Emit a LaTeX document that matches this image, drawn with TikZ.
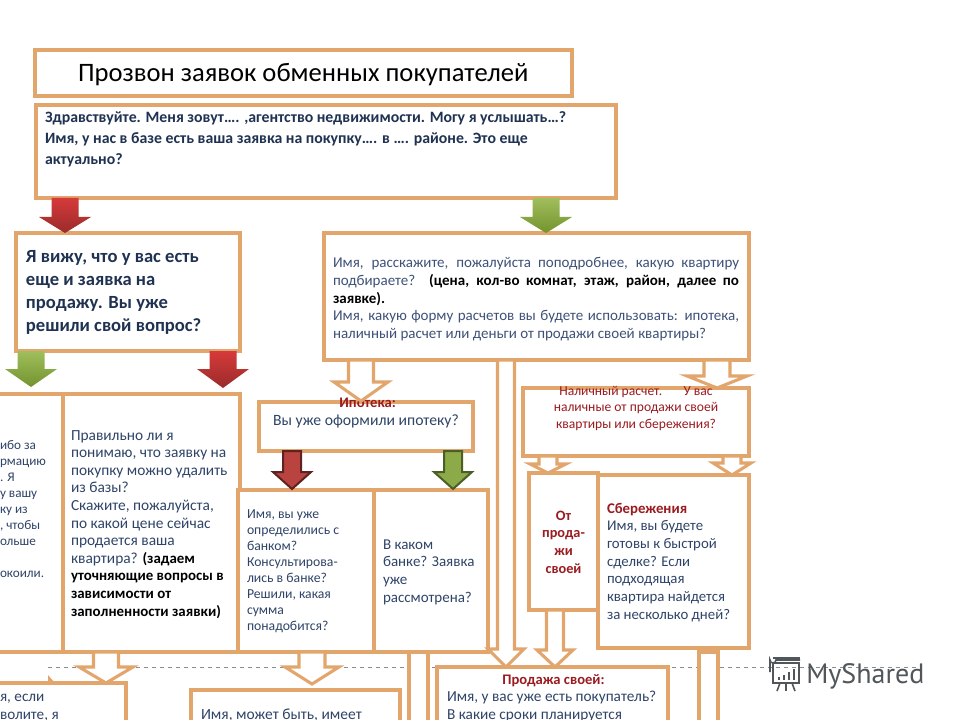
\documentclass[tikz,border=0pt]{standalone}
\usepackage{fontspec}
\setmainfont{Carlito}
\newfontfamily\logofont{PT Sans}
\usetikzlibrary{calc}
\definecolor{peach}{HTML}{E2A56C}
\definecolor{ink}{HTML}{2F4468}
\definecolor{inkdark}{HTML}{1F3252}
\definecolor{inklight}{HTML}{3E5278}
\definecolor{redtxt}{HTML}{9A1B20}
\definecolor{logogray}{HTML}{50565A}
\definecolor{redtop}{HTML}{D63A3A}
\definecolor{redbot}{HTML}{9A2B2B}
\definecolor{greentop}{HTML}{A0BF5C}
\definecolor{greenbot}{HTML}{73932F}
\definecolor{redframefill}{HTML}{B8433F}
\definecolor{redframeline}{HTML}{5E2220}
\definecolor{greenframefill}{HTML}{8CAB48}
\definecolor{greenframeline}{HTML}{4A5E26}
\tikzset{
  x=0.75pt,y=-0.75pt,
  boxnode/.style={draw=peach,line width=2.3pt,fill=white,inner sep=0pt,outer sep=0pt},
  outlinearrow/.style={draw=peach,line width=2.3pt,fill=white,line join=miter},
  redarrow/.style={top color=redtop,bottom color=redbot,draw=none},
  greenarrow/.style={top color=greentop,bottom color=greenbot,draw=none},
  redframe/.style={draw=redframeline,line width=1.5pt,fill=redframefill},
  greenframe/.style={draw=greenframeline,line width=1.5pt,fill=greenframefill},
  stripline/.style={draw=peach,line width=2.3pt,fill=white},
  dashline/.style={draw=black!45,line width=0.5pt,dashed},
}
\newcommand\fs[2]{\fontsize{\the\dimexpr #1pt*3/4\relax}{\the\dimexpr #2pt*3/4\relax}\selectfont}
% name x1 y1 x2 y2 text-left first-baseline content
\newcommand\bx[8]{%
  \pgfmathsetmacro\bw{(#4-#2)*0.75}%
  \pgfmathsetmacro\bh{(#5-#3)*0.75}%
  \pgfmathsetmacro\bl{(#6-#2)*0.75}%
  \pgfmathsetmacro\bt{(#7-#3)*0.75}%
  \node[boxnode] (#1) at ({(#2+#4)/2},{(#3+#5)/2}) {\parbox[c][\bh pt][t]{\bw pt}{\raggedright\leftskip=\bl pt\relax\parindent=0pt #8\par}};%
}
\newcommand\fl{\vspace*{\dimexpr\bt pt-.7\baselineskip\relax}\strut}
% style from to cx halfshaft halfhead heady tipgap
\newcommand\barrow[8]{%
  \path[#1] let \p1=(#2.south),\p2=(#3.north) in
    ({(#4-#5)*.75pt},\y1) -- ({(#4+#5)*.75pt},\y1) -- ({(#4+#5)*.75pt},{-#7*.75pt}) --
    ({(#4+#6)*.75pt},{-#7*.75pt}) -- ({#4*.75pt},{\y2+#8*.75pt}) --
    ({(#4-#6)*.75pt},{-#7*.75pt}) -- ({(#4-#5)*.75pt},{-#7*.75pt}) -- cycle;%
}
\newcommand\jl[1]{\makebox[304.5pt][s]{#1}}
\newcommand\blk[1]{{\color{black}\fs{14.9}{17.6}\bfseries #1}}
\begin{document}
\begin{tikzpicture}
\useasboundingbox (0,0) rectangle (960,720);
\clip (0,0) rectangle (960,720);
\fill[white] (0,0) rectangle (960,720);
\coordinate (dashL) at (48,667);
\coordinate (dashR) at (916,667);
\draw[dashline] (dashL) -- (dashR);

\bx{title}{35}{50}{572}{96}{78}{82}{\fs{26.6}{30}\fl\hspace*{0pt}\color{black}Прозвон заявок обменных покупателей}
\bx{greet}{36}{105}{616}{198}{45}{122.5}{\fs{15.8}{21}\color{inkdark}\bfseries\fl Здравствуйте. Меня зовут…. ,агентство недвижимости. Могу я услышать…?\\
Имя, у нас в базе есть ваша заявка на покупку….  в …. районе.  Это еще\\
актуально?}
\bx{sees}{16}{233}{240}{351}{26}{263}{\fs{18.6}{22.7}\color{inkdark}\bfseries\fl Я вижу, что у вас есть\\
еще и заявка на\\
продажу. Вы уже\\
решили свой вопрос?}
\bx{tell}{324}{233}{749}{360}{333}{268}{\fs{15}{17.5}\color{inklight}\fl\jl{Имя, расскажите, пожалуйста поподробнее, какую квартиру}\\
\jl{подбираете? {\color{black}\bfseries(цена, кол-во комнат, этаж, район, далее по}}\\
{\color{black}\bfseries заявке).}\\
\jl{Имя, какую форму расчетов вы будете использовать: ипотека,}\\
наличный расчет или деньги от продажи своей квартиры?}
\bx{leftcut}{-20}{394}{63}{652}{0}{449}{\fs{13.2}{16}\color{ink}\fl ибо за\\
рмацию\\
. Я\\
у вашу\\
ку из\\
, чтобы\\
ольше\\
\mbox{}\\
окоили.}
\bx{right}{63}{394}{240}{652}{71}{440}{\fs{15.4}{17.6}\color{ink}\fl Правильно ли я\\
понимаю, что заявку на\\
покупку можно удалить\\
из базы?\\
Скажите, пожалуйста,\\
по какой цене сейчас\\
продается ваша\\
квартира? \blk{(задаем}\\
\blk{уточняющие вопросы в}\\
\blk{зависимости от}\\
\blk{заполненности заявки)}}
\bx{ipoteka}{259}{402}{473}{451}{259}{407}{\fs{15.7}{18}\centering\fl{\color{redtxt}\bfseries\fs{14.6}{18} Ипотека:}\\
\color{ink}Вы уже оформили ипотеку?}
\bx{bank}{238}{490}{374}{652}{247}{518}{\fs{13.7}{16.1}\color{ink}\fl Имя, вы уже\\
определились с\\
банком?\\
Консультирова-\\
лись в банке?\\
Решили, какая\\
сумма\\
понадобится?}
\bx{which}{374}{490}{488}{652}{383}{549}{\fs{15}{17.7}\color{ink}\fl В каком\\
банке? Заявка\\
уже\\
рассмотрена?}
\bx{cash}{523}{388}{749}{456}{523}{395}{\fs{13.6}{16.5}\centering\color{redtxt}\fl Наличный расчет.\hspace{16pt}У вас\\
наличные от продажи своей\\
квартиры или сбережения?}
\bx{fromsale}{529}{473}{598}{610}{529}{520}{\fs{14.3}{17.8}\centering\bfseries\color{redtxt}\fl От\\
прода-\\
жи\\
своей}
\bx{savings}{598}{475}{749}{648}{607}{513}{\fs{14.8}{17.7}\color{ink}\fl{\color{redtxt}\bfseries Сбережения}\\
Имя, вы будете\\
готовы к быстрой\\
сделке? Если\\
подходящая\\
квартира найдется\\
за несколько дней?}
\bx{lowleft}{-20}{683}{126}{760}{0}{701}{\fs{15.2}{18}\color{ink}\fl я, если\\
волите, я}
\bx{lowmid}{191}{690}{400}{760}{201}{719}{\fs{15.5}{18}\color{ink}\fl Имя, может быть, имеет}
\bx{sale}{437}{667}{668}{760}{447}{684}{\fs{15.3}{17.6}\color{ink}\fl\hspace*{41.5pt}{\color{redtxt}\bfseries\fs{14.6}{17.6}Продажа своей:}\\
Имя, у вас уже есть покупатель?\\
В какие сроки планируется}

\barrow{redarrow}{greet}{sees}{65}{13.5}{26}{217}{0}
\barrow{greenarrow}{greet}{tell}{546}{13.5}{26}{217}{0}
\barrow{greenarrow}{sees}{leftcut}{31}{13.5}{26}{369}{7}
\barrow{redarrow}{sees}{right}{223}{13.5}{26}{369}{6}
\barrow{outlinearrow}{tell}{ipoteka}{361}{12.5}{27}{382}{1}
\barrow{outlinearrow}{tell}{cash}{717}{13}{30}{376}{0}
\barrow{redframe}{ipoteka}{bank}{292}{9}{19}{472}{1}
\barrow{greenframe}{ipoteka}{which}{453}{9}{19}{472}{1}
\barrow{outlinearrow}{cash}{fromsale}{548}{9}{18}{464}{0}
\barrow{outlinearrow}{cash}{savings}{732}{9}{19}{463}{0}
\barrow{outlinearrow}{tell}{sale}{506}{8.5}{18}{649}{0}
\barrow{outlinearrow}{fromsale}{sale}{555}{8.5}{18}{650}{0}
\barrow{outlinearrow}{right}{lowleft}{106}{12.5}{27}{667}{0}
\barrow{outlinearrow}{bank}{lowmid}{312}{13}{27}{667}{6}

\coordinate (offA) at (428,740);
\coordinate (offB) at (718,740);
\coordinate (startA) at (409,652);
\coordinate (startB) at (699,652);
\draw[stripline] (startA) rectangle (offA);
\draw[stripline] (startB) rectangle (offB);
\fill[peach] (48,675) -- (55,683) -- (48,683) -- cycle;

% MyShared logo
\begin{scope}[draw=logogray,fill=logogray,line width=1.2pt]
  \draw (773,663) rectangle (799,683);
  \draw (770,672) -- (770,660) arc (180:360:3 and -3) -- (800,660);
  \draw (773,658) -- (800,658);
  \fill (778,677) rectangle (780,680);
  \fill (783,675) rectangle (785,680);
  \fill (788,672) rectangle (790,680);
  \fill (793,669) rectangle (795,680);
  \draw (780,683) -- (777,691);
  \draw (786,683) -- (786,691);
  \draw (792,683) -- (795,691);
\end{scope}
\node[anchor=base west,inner sep=0pt,font=\logofont\fontsize{21pt}{26pt}\selectfont,text=logogray] (logo) at (806,683) {MyShared};
\end{tikzpicture}
\end{document}
